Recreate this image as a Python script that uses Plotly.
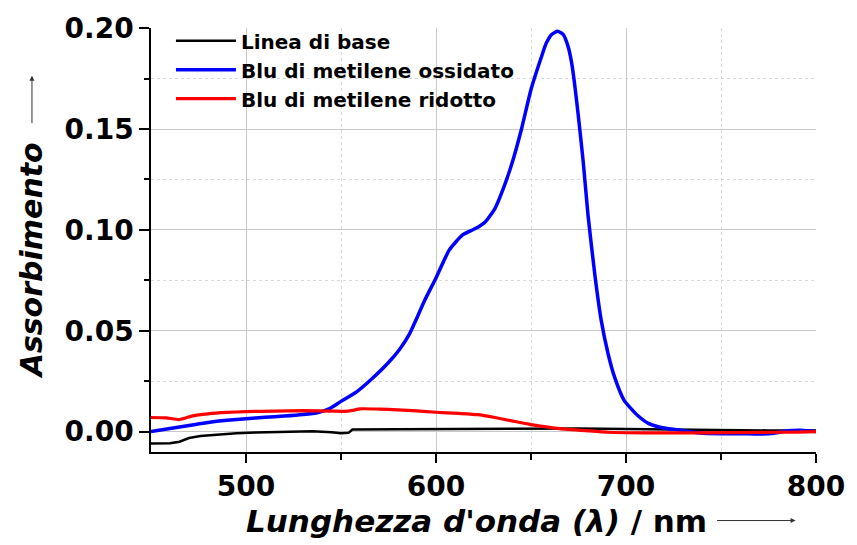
import plotly.graph_objects as go

# Baseline spectrum
base_nm = [450, 460, 465, 470, 476, 485, 495, 505, 520, 535, 545, 550, 554, 556,
           580, 600, 625, 650, 675, 700, 725, 750, 775, 800]
base_abs = [-0.0059, -0.0058, -0.0050, -0.0032, -0.0022, -0.0015, -0.0008, -0.0004,
            0.0000, 0.0002, -0.0003, -0.0008, -0.0006, 0.0010, 0.0012, 0.0013,
            0.0015, 0.0016, 0.0015, 0.0013, 0.0010, 0.0008, 0.0006, 0.0005]

# Oxidised methylene blue
ox_nm = [450, 460, 470, 480, 490, 500, 510, 520, 530, 538, 544, 550, 558, 566, 575,
         581, 586, 590, 594, 600, 607, 614, 621, 626, 631, 636, 640, 645, 650, 655.6,
         658, 661, 664, 667, 669.5, 671.4, 673, 674.9, 677.5, 680, 683.6, 687, 690.6,
         694, 699, 706, 712, 720, 730, 740, 750, 760, 770, 778, 785, 792, 800]
ox_abs = [0.0000, 0.0015, 0.0030, 0.0045, 0.0056, 0.0064, 0.0071, 0.0077, 0.0085,
          0.0095, 0.0114, 0.0150, 0.0196, 0.0260, 0.0343, 0.0410, 0.0483, 0.0565,
          0.0650, 0.0762, 0.0901, 0.0975, 0.1008, 0.1041, 0.1106, 0.1220, 0.1330,
          0.1500, 0.1696, 0.1861, 0.1925, 0.1970, 0.1985, 0.1968, 0.1910, 0.1828,
          0.1720, 0.1566, 0.1336, 0.1074, 0.0778, 0.0549, 0.0385, 0.0270, 0.0155,
          0.0081, 0.0040, 0.0018, 0.0005, -0.0008, -0.0010, -0.0010, -0.0012, -0.0008,
          0.0004, 0.0007, 0.0000]

# Reduced methylene blue
red_nm = [450, 458, 465, 472, 480, 490, 500, 515, 530, 545, 552, 556, 560, 570, 580,
          590, 600, 612, 622, 631, 640, 650, 665, 680, 691, 710, 740, 770, 790, 800]
red_abs = [0.0070, 0.0068, 0.0060, 0.0078, 0.0088, 0.0095, 0.0099, 0.0102, 0.0104,
           0.0102, 0.0100, 0.0105, 0.0113, 0.0112, 0.0108, 0.0103, 0.0096, 0.0090,
           0.0084, 0.0070, 0.0053, 0.0035, 0.0015, 0.0004, -0.0003, -0.0006, -0.0006,
           -0.0004, -0.0002, 0.0000]

series_names = ["Linea di base", "Blu di metilene ossidato", "Blu di metilene ridotto"]

x_ticks = [500, 600, 700, 800]
y_ticks = [0.00, 0.05, 0.10, 0.15, 0.20]
y_tick_text = ["0.00", "0.05", "0.10", "0.15", "0.20"]

FONT = "DejaVu Sans"

fig = go.Figure()
fig.add_trace(go.Scatter(x=base_nm, y=base_abs, mode="lines", name=series_names[0],
                         line=dict(color="#000000", width=2.5)))
fig.add_trace(go.Scatter(x=ox_nm, y=ox_abs, mode="lines", name=series_names[1],
                         line=dict(color="#0000ff", width=3.5, shape="spline", smoothing=0.5)))
fig.add_trace(go.Scatter(x=red_nm, y=red_abs, mode="lines", name=series_names[2],
                         line=dict(color="#ff0000", width=3.2, shape="spline", smoothing=0.5)))

fig.update_layout(
    width=857, height=545,
    margin=dict(l=151, r=38, t=25, b=93),
    paper_bgcolor="white", plot_bgcolor="white",
    font=dict(family=FONT, color="black"),
    showlegend=True,
    legend=dict(x=0.03, y=1.016, xanchor="left", yanchor="top",
                bgcolor="rgba(0,0,0,0)", borderwidth=0,
                font=dict(family=FONT, size=20, weight="bold", color="black"),
                itemwidth=60, tracegroupgap=0),
    xaxis=dict(
        range=[450, 800], tickvals=x_ticks,
        showline=True, linecolor="black", linewidth=1.5,
        ticks="outside", ticklen=9, tickwidth=1.5, tickcolor="black",
        tickfont=dict(family=FONT, size=28, weight="bold", color="black"),
        showgrid=True, gridcolor="#c8c8c8", gridwidth=1,
        zeroline=False,
        minor=dict(tickvals=[550, 650, 750], ticks="outside", ticklen=6,
                   tickcolor="black", showgrid=True, gridcolor="#d8d8d8",
                   griddash="dot", gridwidth=1),
    ),
    yaxis=dict(
        range=[-0.0101, 0.2001], tickvals=y_ticks, ticktext=y_tick_text,
        showline=True, linecolor="black", linewidth=1.5,
        ticks="outside", ticklen=10, tickwidth=1.5, tickcolor="black",
        tickfont=dict(family=FONT, size=28, weight="bold", color="black"),
        showgrid=True, gridcolor="#c8c8c8", gridwidth=1,
        zeroline=False,
        minor=dict(tickvals=[0.025, 0.075, 0.125, 0.175], ticks="outside", ticklen=5,
                   tickcolor="black", showgrid=True, gridcolor="#d8d8d8",
                   griddash="dot", gridwidth=1),
    ),
)

# Axis titles with direction arrows
fig.add_annotation(xref="paper", yref="paper", x=0.1403, y=-0.1616,
                   xanchor="left", yanchor="middle", showarrow=False,
                   text="<b><i>Lunghezza d'onda (λ)</i> / nm</b>",
                   font=dict(family=FONT, size=31, color="black"))
fig.add_annotation(xref="paper", yref="paper", x=(798 - 151.4) / 667.1, y=-0.1616,
                   ax=-80, ay=0, text="", showarrow=True, arrowhead=2,
                   arrowsize=1, arrowwidth=1, arrowcolor="#333333")
fig.add_annotation(xref="paper", yref="paper", x=-0.1805, y=0.452,
                   xanchor="center", yanchor="middle", showarrow=False, textangle=-90,
                   text="<b><i>Assorbimento</i></b>",
                   font=dict(family=FONT, size=30, color="black"))
fig.add_annotation(xref="paper", yref="paper", x=-0.179, y=(452 - 73) / 427,
                   ax=0, ay=49, text="", showarrow=True, arrowhead=2,
                   arrowsize=1, arrowwidth=1, arrowcolor="#333333")

fig.write_html("out.html")
